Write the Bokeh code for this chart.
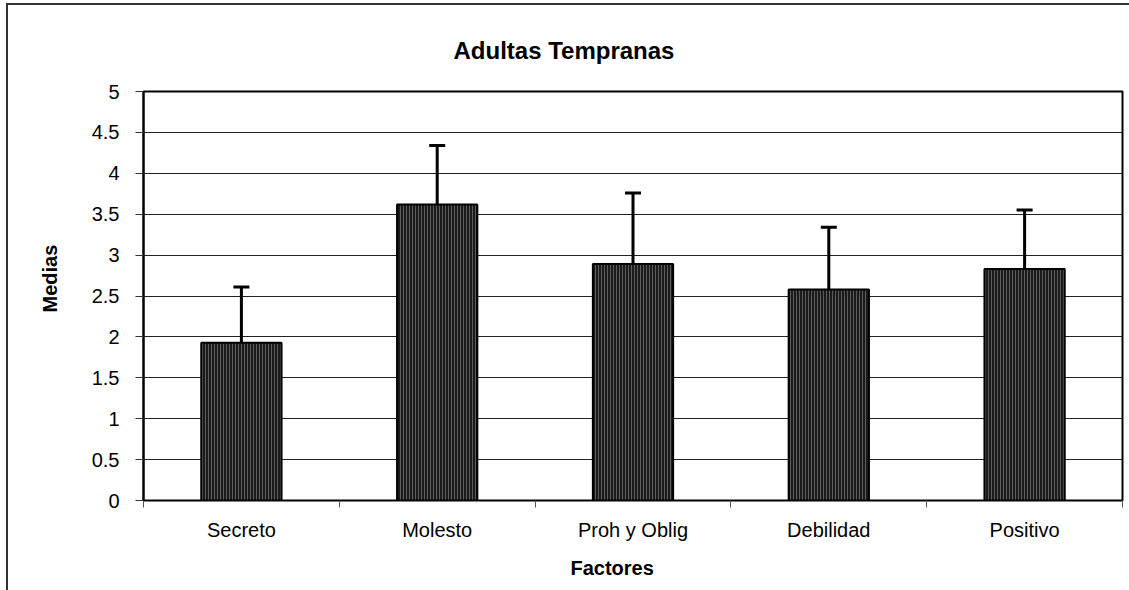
from bokeh.plotting import figure
from bokeh.models import (ColumnDataSource, Range1d, LinearAxis, Title,
                          FixedTicker, CustomJSTickFormatter, Whisker, TeeHead)
from bokeh.embed import file_html
from bokeh.resources import INLINE

categories = ["Secreto", "Molesto", "Proh y Oblig", "Debilidad", "Positivo"]
means = [1.93, 3.62, 2.89, 2.58, 2.83]
errors = [0.68, 0.72, 0.87, 0.76, 0.72]
y_ticks = [0, 0.5, 1, 1.5, 2, 2.5, 3, 3.5, 4, 4.5, 5]
title_text = "Adultas Tempranas"
x_title = "Factores"
y_title = "Medias"

FONT = "Liberation Sans"

n = len(categories)
xpos = [i + 0.5 for i in range(n)]
upper = [m + e for m, e in zip(means, errors)]
src = ColumnDataSource(dict(x=xpos, cat=categories, mean=means, upper=upper))

p = figure(width=1121, height=585, x_range=Range1d(0, n),
           y_range=Range1d(0, 5), x_axis_location=None, output_backend="svg",
           toolbar_location=None, min_border_left=135, min_border_right=7,
           min_border_top=86, min_border_bottom=90)
p.styles = {"margin-left": "8px", "margin-top": "5px", "outline": "2px solid #333"}

p.outline_line_color = "black"
p.outline_line_width = 2
p.background_fill_color = "white"
p.border_fill_color = "white"

# title (left-aligned with offset so that it is centred on the whole chart box)
p.title.text = title_text
p.title.align = "left"
p.title.offset = 310
p.title.standoff = 56
p.title.text_font = FONT
p.title.text_font_size = "24px"
p.title.text_font_style = "bold"
p.title.text_color = "black"

# y axis
p.yaxis.ticker = FixedTicker(ticks=y_ticks)
p.yaxis.formatter = CustomJSTickFormatter(code="return String(tick);")
p.yaxis.major_label_text_font = FONT
p.yaxis.major_label_text_font_size = "20px"
p.yaxis.major_label_text_color = "black"
p.yaxis.major_tick_in = 0
p.yaxis.major_tick_out = 8
p.yaxis.major_tick_line_color = "#333"
p.yaxis.minor_tick_line_color = None
p.yaxis.axis_line_color = "black"
p.yaxis.axis_line_width = 2
p.yaxis.major_label_standoff = 16

p.ygrid.ticker = FixedTicker(ticks=y_ticks)
p.ygrid.grid_line_color = "#222"
p.ygrid.grid_line_width = 1
p.xgrid.visible = False

# x axes: tick marks at category boundaries + labels at centers
tick_axis = LinearAxis(ticker=FixedTicker(ticks=list(range(n + 1))),
                       formatter=CustomJSTickFormatter(code="return '';"),
                       major_label_standoff=0,
                       axis_line_color=None, major_tick_in=0, major_tick_out=7,
                       major_tick_line_color="#555", minor_tick_line_color=None)
cat_axis = LinearAxis(ticker=FixedTicker(ticks=xpos),
                      formatter=CustomJSTickFormatter(args=dict(cats=categories),
                                                      code="return cats[Math.floor(tick)];"),
                      major_tick_line_color=None, major_tick_out=0, major_tick_in=0,
                      minor_tick_line_color=None,
                      axis_line_color=None, major_label_standoff=11,
                      major_label_text_font=FONT, major_label_text_font_size="20px",
                      major_label_text_color="black")
p.add_layout(tick_axis, "below")
p.add_layout(cat_axis, "below")

# axis titles
p.add_layout(Title(text=x_title, align="left", offset=427, standoff=23,
                   text_font=FONT, text_font_size="20px", text_font_style="bold",
                   text_color="black"), "below")
p.add_layout(Title(text=y_title, align="left", offset=188, standoff=56,
                   text_font=FONT, text_font_size="20px", text_font_style="bold",
                   text_color="black"), "left")

# error bars
w = Whisker(source=src, base="x", upper="upper", lower="mean",
            line_color="black", line_width=3,
            upper_head=TeeHead(size=16, line_width=3, line_color="black"),
            lower_head=None)
p.add_layout(w)

# bars
p.vbar(x="x", top="mean", bottom=0, width=0.41, source=src,
       fill_color="#1b1b1b", line_color="black", line_width=2,
       hatch_pattern="vertical_line", hatch_color="#5c5c5c", hatch_scale=3, hatch_weight=1)

open("out.html", "w").write(file_html(p, INLINE))
